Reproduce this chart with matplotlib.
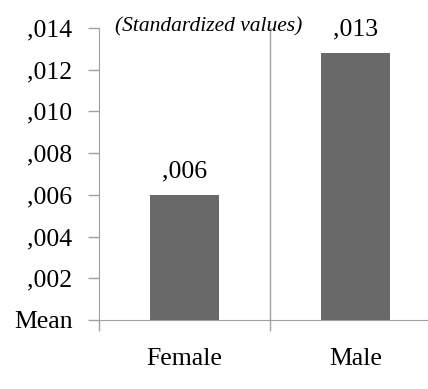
import matplotlib.pyplot as plt

# Mean standardized values by gender
categories = ['Female', 'Male']
means = [0.0060, 0.0128]
value_labels = [',006', ',013']
yticks = [0, 0.002, 0.004, 0.006, 0.008, 0.010, 0.012, 0.014]
ytick_labels = ['Mean', ',002', ',004', ',006', ',008', ',010', ',012', ',014']

plt.rcParams['font.family'] = ['Liberation Serif', 'DejaVu Serif']

fig = plt.figure(figsize=(4.28, 3.89), dpi=100)
ax = fig.add_axes([99 / 428, 69 / 389, 342 / 428, 292 / 389])

x = range(len(categories))
ax.bar(x, means, width=0.4, color='#696969', zorder=3)
for xi, m, lab in zip(x, means, value_labels):
    ax.annotate(lab, (xi, m), xytext=(0, 9), textcoords='offset points',
                ha='center', va='bottom', fontsize=18.5)

ax.set_xlim(-0.5, 1.5)
ax.set_ylim(0, 0.014)
ax.set_yticks(yticks)
ax.set_yticklabels(ytick_labels, fontsize=18.5)

# category separators on the x axis
ax.set_xticks([-0.5, 0.5, 1.5])
ax.set_xticklabels([])
ax.set_xticks(list(x), minor=True)
ax.set_xticklabels(categories, minor=True, fontsize=18.5)
ax.tick_params(axis='x', which='minor', length=0, pad=20)
ax.tick_params(axis='x', which='major', length=8, color='#a0a0a0', width=1)
ax.tick_params(axis='y', length=8, color='#a0a0a0', width=1, pad=11)
ax.axvline(0.5, color='#a0a0a0', lw=1, zorder=1)

for side in ['top', 'right']:
    ax.spines[side].set_visible(False)
for side in ['left', 'bottom']:
    ax.spines[side].set_color('#a0a0a0')

ax.text(0.047, 1.003, '(Standardized values)', transform=ax.transAxes,
        ha='left', va='center', style='italic', fontsize=15.5)

fig.savefig('out.png', dpi=100)
